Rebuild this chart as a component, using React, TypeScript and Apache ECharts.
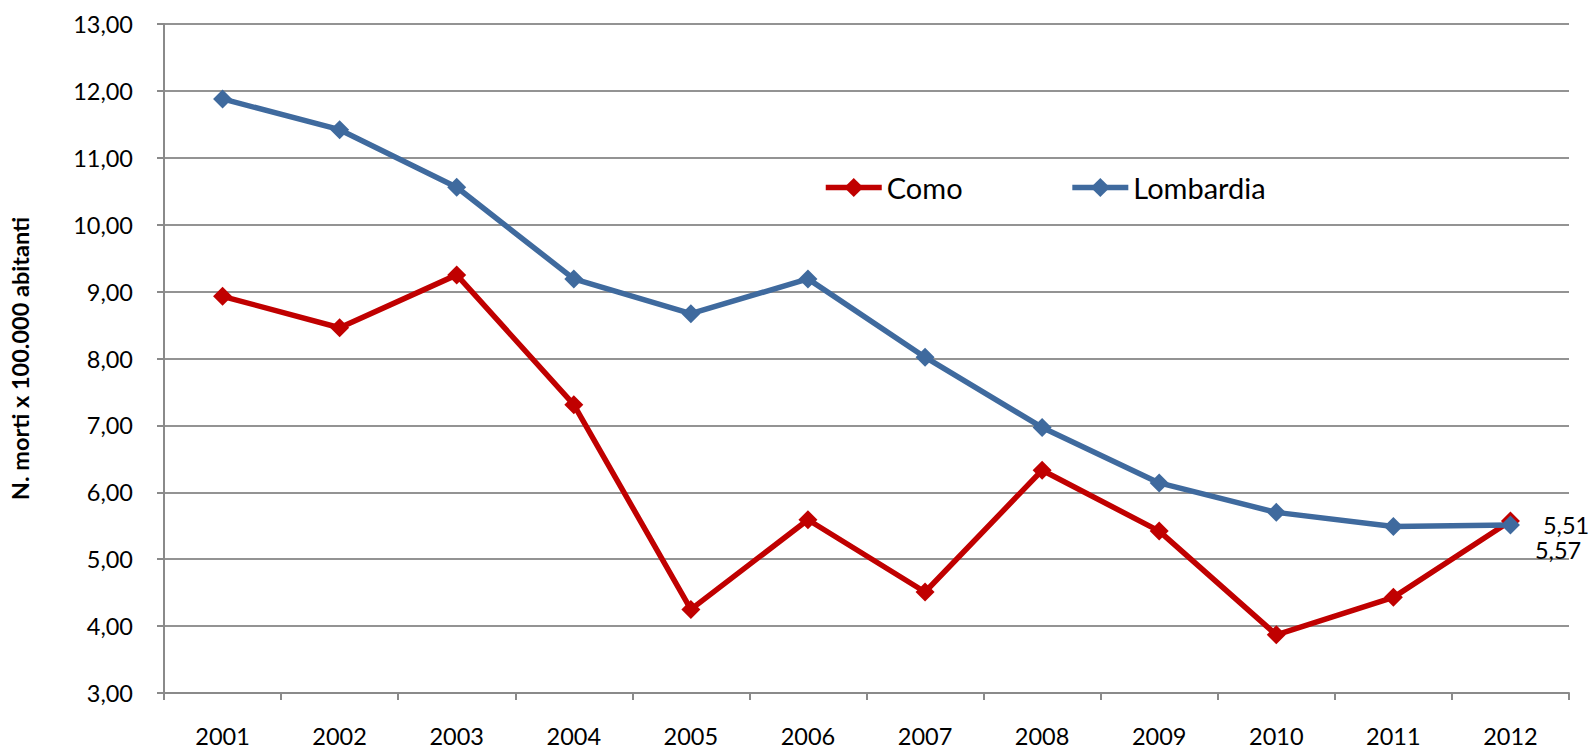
import React, { useEffect, useRef } from "react";
import * as echarts from "echarts";

const years = ["2001", "2002", "2003", "2004", "2005", "2006", "2007", "2008", "2009", "2010", "2011", "2012"];
const como = [8.93, 8.46, 9.25, 7.31, 4.25, 5.59, 4.51, 6.33, 5.42, 3.87, 4.43, 5.57];
const lombardia = [11.88, 11.42, 10.56, 9.19, 8.67, 9.19, 8.02, 6.97, 6.14, 5.7, 5.49, 5.51];
const yTitle = "N. morti x 100.000 abitanti";

const FONT = "Lato, 'Open Sans', sans-serif";
const fmt = (v: number) => v.toFixed(2).replace(".", ",");

export default function App() {
  const ref = useRef<HTMLDivElement>(null);
  useEffect(() => {
    if (!ref.current) return;
    const chart = echarts.init(ref.current, undefined, { renderer: "svg" });
    const last = years.length - 1;
    const mk = (arr: number[], label: any) =>
      arr.map((v, i) => (i === last ? { value: v, label } : v));
    chart.setOption({
      animation: false,
      backgroundColor: "#ffffff",
      grid: { left: 157, right: 23, top: 24, bottom: 57 },
      legend: {
        left: 818,
        top: 168,
        itemWidth: 56,
        itemHeight: 24,
        itemGap: 107,
        lineStyle: { width: 5.5 },
        textStyle: { fontFamily: FONT, fontSize: 29, color: "#000" },
        data: ["Como", "Lombardia"],
      },
      xAxis: {
        type: "category",
        data: years,
        boundaryGap: true,
        axisLine: { lineStyle: { color: "#8a8a8a", width: 2 } },
        axisTick: { show: true, length: 7, lineStyle: { color: "#8a8a8a", width: 2 } },
        axisLabel: { fontFamily: FONT, fontSize: 23.5, color: "#000", margin: 31 },
        splitLine: { show: false },
      },
      yAxis: {
        type: "value",
        min: 3,
        max: 13,
        interval: 1,
        name: yTitle,
        nameLocation: "middle",
        nameRotate: 90,
        nameGap: 132,
        nameTextStyle: { fontFamily: FONT, fontSize: 23.5, fontWeight: "bold", color: "#000" },
        axisLine: { show: true, lineStyle: { color: "#8a8a8a", width: 2 } },
        axisTick: { show: true, length: 7, lineStyle: { color: "#8a8a8a", width: 2 } },
        axisLabel: { fontFamily: FONT, fontSize: 23.5, color: "#000", margin: 31, formatter: fmt },
        splitLine: { show: true, lineStyle: { color: "#939393", width: 2 } },
      },
      series: [
        {
          name: "Como",
          type: "line",
          data: mk(como, {
            show: true,
            position: "right",
            distance: 15,
            offset: [0, 29],
            formatter: (p: any) => fmt(p.value),
            fontFamily: FONT,
            fontSize: 23.5,
            color: "#000",
          }),
          symbol: "diamond",
          symbolSize: 19,
          lineStyle: { color: "#C00000", width: 5.5 },
          itemStyle: { color: "#C00000" },
        },
        {
          name: "Lombardia",
          type: "line",
          data: mk(lombardia, {
            show: true,
            position: "right",
            distance: 23,
            formatter: (p: any) => fmt(p.value),
            fontFamily: FONT,
            fontSize: 23.5,
            color: "#000",
          }),
          symbol: "diamond",
          symbolSize: 19,
          lineStyle: { color: "#3F6A9E", width: 5.5 },
          itemStyle: { color: "#3F6A9E" },
        },
      ],
    });
    return () => chart.dispose();
  }, []);
  return (
    <div
      ref={ref}
      style={{ position: "fixed", left: 0, top: 0, width: 1592, height: 750 }}
    />
  );
}
